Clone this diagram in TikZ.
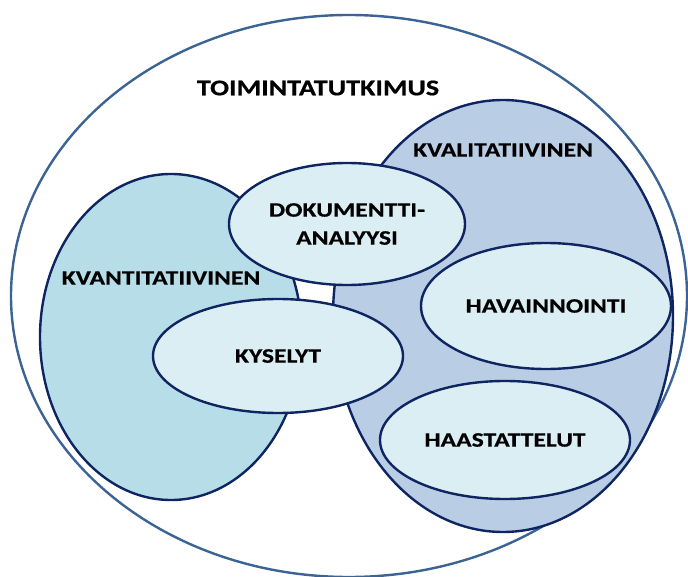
\documentclass[tikz,border=0pt]{standalone}
\usepackage{fontspec}
\setmainfont{Carlito}[FakeStretch=1.25,FakeBold=0.6]
\usepackage{tikz}
\usetikzlibrary{shapes.geometric}
\definecolor{ringblue}{HTML}{3B6394}
\definecolor{navy}{HTML}{0E2561}
\definecolor{quantbg}{HTML}{B7DEE8}
\definecolor{qualbg}{HTML}{B9CDE5}
\definecolor{methodbg}{HTML}{DAEEF3}

\begin{document}
\begin{tikzpicture}[
      x=1pt,y=-1pt,
      ring/.style={draw=ringblue,line width=2.4pt,ellipse,inner sep=0pt},
      area/.style={draw=navy,line width=2.4pt,ellipse,inner sep=0pt},
      method/.style={area,fill=methodbg,align=center,
                     font=\bfseries\fontsize{20.5}{28}\selectfont},
      lbl/.style={font=\bfseries\fontsize{20.5}{22}\selectfont,inner sep=0pt}]
    \useasboundingbox (0,0) rectangle (688,577);
    % outer circle and the two method families
    \node[ring,minimum width=676pt,minimum height=562pt] (toim) at (349,296) {};
    \node[area,fill=quantbg,minimum width=262pt,minimum height=326pt] (kvant) at (171,337) {};
    \node[area,fill=qualbg,minimum width=340pt,minimum height=432pt] (kval) at (503,316) {};
    % methods
    \node[method,minimum width=236pt,minimum height=122pt] (doku) at (347,224)
      {DOKUMENTTI-\\ANALYYSI};
    \node[method,minimum width=250pt,minimum height=114pt] (kysely) at (278,356) {KYSELYT};
    \node[method,minimum width=250pt,minimum height=126pt] (havain) at (546,306) {HAVAINNOINTI};
    \node[method,minimum width=250pt,minimum height=118pt] (haast) at (505,440) {HAASTATTELUT};
    % labels
    \node[lbl,font=\bfseries\fontsize{22.5}{24}\selectfont] (toimlbl) at (318,88) {TOIMINTATUTKIMUS};
    \node[lbl] (kvallbl) at (503,150) {KVALITATIIVINEN};
    \node[lbl] (kvantlbl) at (161,278) {KVANTITATIIVINEN};
  \end{tikzpicture}
\end{document}
